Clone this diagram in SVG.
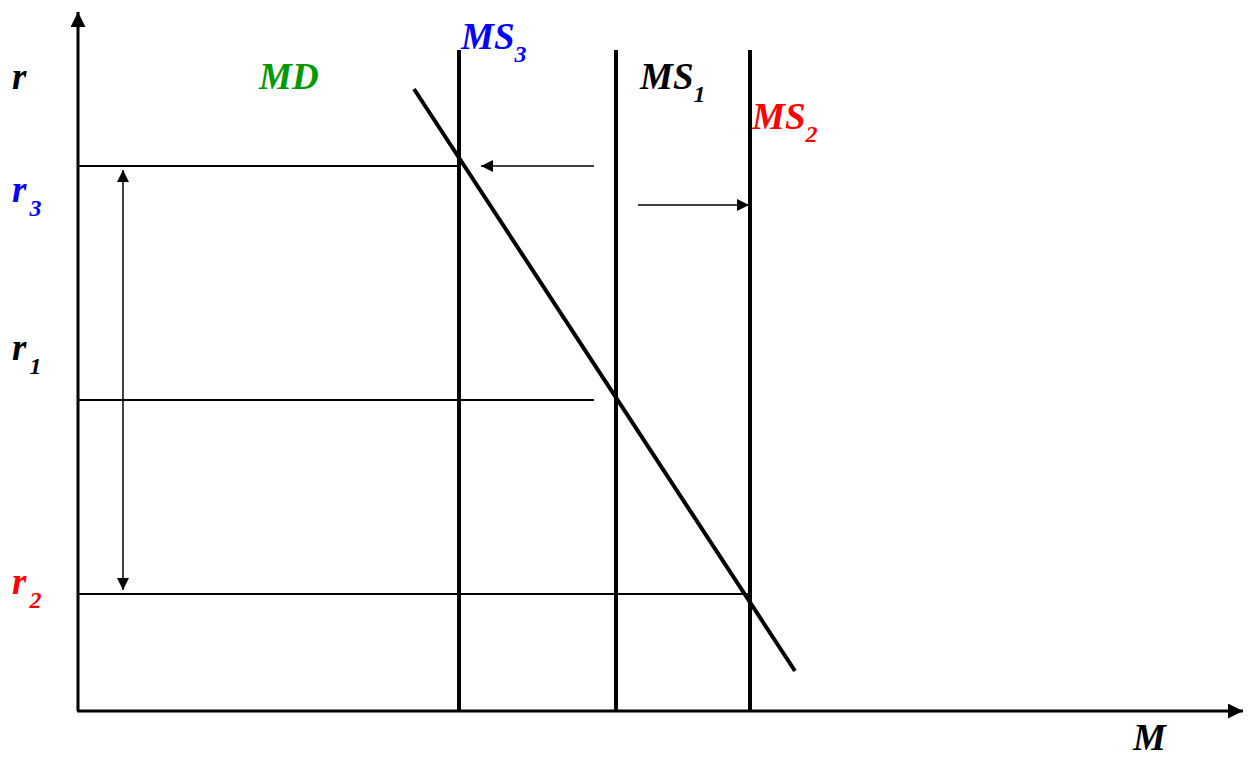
<svg xmlns="http://www.w3.org/2000/svg" width="1249" height="758" viewBox="0 0 1249 758">
<style>
.lbl{font-family:"Liberation Serif","Times New Roman",serif;font-weight:bold;font-style:italic;font-size:37px}
.sub{font-size:24px}
.thin{stroke:#000;stroke-width:2;fill:none}
.thick{stroke:#000;stroke-width:4;fill:none}
</style>
<defs>
<marker id="ah" viewBox="0 0 10 10" refX="10" refY="5" markerWidth="12" markerHeight="12" markerUnits="userSpaceOnUse" orient="auto-start-reverse"><path d="M0,0 L10,5 L0,10 z" fill="#000"/></marker>
<marker id="ahBig" viewBox="0 0 10 10" refX="10" refY="5" markerWidth="15" markerHeight="15" markerUnits="userSpaceOnUse" orient="auto"><path d="M0,0 L10,5 L0,10 z" fill="#000"/></marker>
</defs>
<rect width="1249" height="758" fill="#fff"/>
<g id="axes">
<line x1="78" y1="711" x2="78" y2="12" stroke="#000" stroke-width="3" marker-end="url(#ahBig)"/>
<line x1="77" y1="711" x2="1243" y2="711" stroke="#000" stroke-width="3" marker-end="url(#ahBig)"/>
</g>
<g id="connectors">
<line class="thin" x1="78" y1="166" x2="459" y2="166"/>
<line class="thin" x1="78" y1="400" x2="594" y2="400"/>
<line class="thin" x1="78" y1="594" x2="750" y2="594"/>
<line x1="123" y1="170" x2="123" y2="590" stroke="#000" stroke-width="1.5" marker-start="url(#ah)" marker-end="url(#ah)"/>
<line x1="594" y1="166" x2="481" y2="166" stroke="#000" stroke-width="1.5" marker-end="url(#ah)"/>
<line x1="638" y1="205" x2="749" y2="205" stroke="#000" stroke-width="1.5" marker-end="url(#ah)"/>
</g>
<g id="MS3"><line class="thick" x1="459" y1="50" x2="459" y2="711"/></g>
<g id="MS1"><line class="thick" x1="616" y1="50" x2="616" y2="711"/></g>
<g id="MS2"><line class="thick" x1="750" y1="50" x2="750" y2="711"/></g>
<g id="MD"><line class="thick" x1="414" y1="89" x2="795" y2="671"/></g>
<g id="labels">
<text class="lbl" x="12" y="89">r</text>
<text class="lbl" x="12" y="202" fill="#0000ff">r<tspan class="sub" dx="3" dy="14">3</tspan></text>
<text class="lbl" x="12" y="360">r<tspan class="sub" dx="3" dy="14">1</tspan></text>
<text class="lbl" x="12" y="594" fill="#ff0000">r<tspan class="sub" dx="3" dy="14">2</tspan></text>
<text class="lbl" x="259" y="89" fill="#009900">MD</text>
<text class="lbl" x="461" y="49" fill="#0000ff">MS<tspan class="sub" dy="13">3</tspan></text>
<text class="lbl" x="640" y="89">MS<tspan class="sub" dy="13">1</tspan></text>
<text class="lbl" x="752" y="129" fill="#ff0000">MS<tspan class="sub" dy="13">2</tspan></text>
<text class="lbl" x="1133" y="750">M</text>
</g>
</svg>
